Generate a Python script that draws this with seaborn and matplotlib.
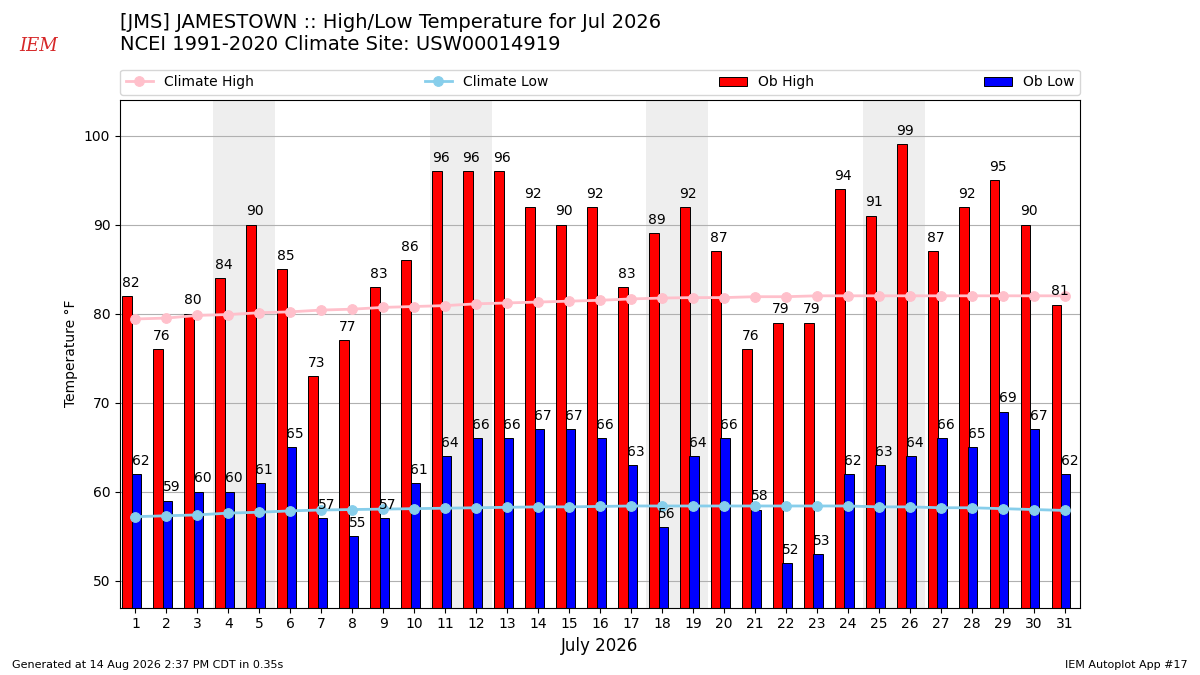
import numpy as np
import pandas as pd
import matplotlib
matplotlib.use("Agg")
import matplotlib.pyplot as plt
import seaborn as sns

days = list(range(1, 32))
ob_high = [82, 76, 80, 84, 90, 85, 73, 77, 83, 86, 96, 96, 96, 92, 90, 92,
           83, 89, 92, 87, 76, 79, 79, 94, 91, 99, 87, 92, 95, 90, 81]
ob_low = [62, 59, 60, 60, 61, 65, 57, 55, 57, 61, 64, 66, 66, 67, 67, 66,
          63, 56, 64, 66, 58, 52, 53, 62, 63, 64, 66, 65, 69, 67, 62]
clim_high = [79.4, 79.5, 79.8, 79.9, 80.1, 80.2, 80.4, 80.5, 80.7, 80.8, 80.9,
             81.1, 81.2, 81.3, 81.4, 81.5, 81.65, 81.75, 81.8, 81.8, 81.9, 81.9,
             82.0, 82.0, 82.0, 82.0, 82.0, 82.0, 82.0, 82.0, 82.0]
clim_low = [57.2, 57.3, 57.4, 57.6, 57.7, 57.85, 57.95, 58.0, 58.05, 58.1, 58.15,
            58.2, 58.25, 58.3, 58.3, 58.35, 58.4, 58.4, 58.4, 58.4, 58.4, 58.4,
            58.4, 58.4, 58.3, 58.3, 58.2, 58.2, 58.1, 58.0, 57.9]
saturdays = [4, 11, 18, 25]

df = pd.DataFrame({"day": days, "high": ob_high, "low": ob_low,
                   "chigh": clim_high, "clow": clim_low})

fig = plt.figure(figsize=(12, 6.75), dpi=100)
ax = fig.add_axes([0.1, 0.1, 0.8, 0.752])

# weekend shading
for d in saturdays:
    ax.axvspan(d - 0.5, d + 1.5, color="#EEEEEE", zorder=0, lw=0)

ax.bar(df["day"] - 0.26, df["high"], width=0.32, color="r", edgecolor="k",
       linewidth=0.7, label="Ob High", zorder=2)
ax.bar(df["day"] + 0.04, df["low"], width=0.3, color="b", edgecolor="k",
       linewidth=0.7, label="Ob Low", zorder=2)

sns.lineplot(data=df, x="day", y="chigh", color="pink", marker="o", markersize=7,
             markeredgecolor="pink", linewidth=2, label="Climate High", ax=ax, zorder=3)
sns.lineplot(data=df, x="day", y="clow", color="skyblue", marker="o", markersize=7,
             markeredgecolor="skyblue", linewidth=2, label="Climate Low", ax=ax, zorder=3)

for i, d in enumerate(days):
    ax.text(d - 0.15, ob_high[i] + 0.7, str(ob_high[i]), ha="center", va="bottom",
            fontsize=10, zorder=4)
    ax.text(d + 0.16, ob_low[i] + 0.7, str(ob_low[i]), ha="center", va="bottom",
            fontsize=10, zorder=4)

ax.set_xlim(0.5, 31.5)
ax.set_ylim(47, 104)
ax.set_xticks(days)
ax.set_yticks(np.arange(50, 101, 10))
ax.tick_params(labelsize=10)
ax.grid(True, axis="y", color="#b0b0b0", linewidth=0.8, zorder=1)
ax.grid(False, axis="x")
ax.set_axisbelow(True)
ax.set_xlabel("July 2026", fontsize=12)
ax.set_ylabel("Temperature °F", fontsize=10)

handles, labels = ax.get_legend_handles_labels()
order = [labels.index(l) for l in ["Climate High", "Climate Low", "Ob High", "Ob Low"]]
ax.legend([handles[i] for i in order], [labels[i] for i in order],
          loc="lower left", bbox_to_anchor=(0, 1.01, 1, 0.05), mode="expand",
          ncol=4, borderaxespad=0, fontsize=10)

fig.text(0.1, 0.98, "[JMS] JAMESTOWN :: High/Low Temperature for Jul 2026\n"
         "NCEI 1991-2020 Climate Site: USW00014919", ha="left", va="top",
         fontsize=14, linespacing=1.2)
fig.text(0.032, 0.925, "IEM", color="#d62728", fontsize=13, style="italic",
         family="DejaVu Serif", ha="center")
fig.text(0.01, 0.01, "Generated at 14 Aug 2026 2:37 PM CDT in 0.35s", fontsize=8)
fig.text(0.99, 0.01, "IEM Autoplot App #17", fontsize=8, ha="right")

fig.savefig("out.png", dpi=100)
